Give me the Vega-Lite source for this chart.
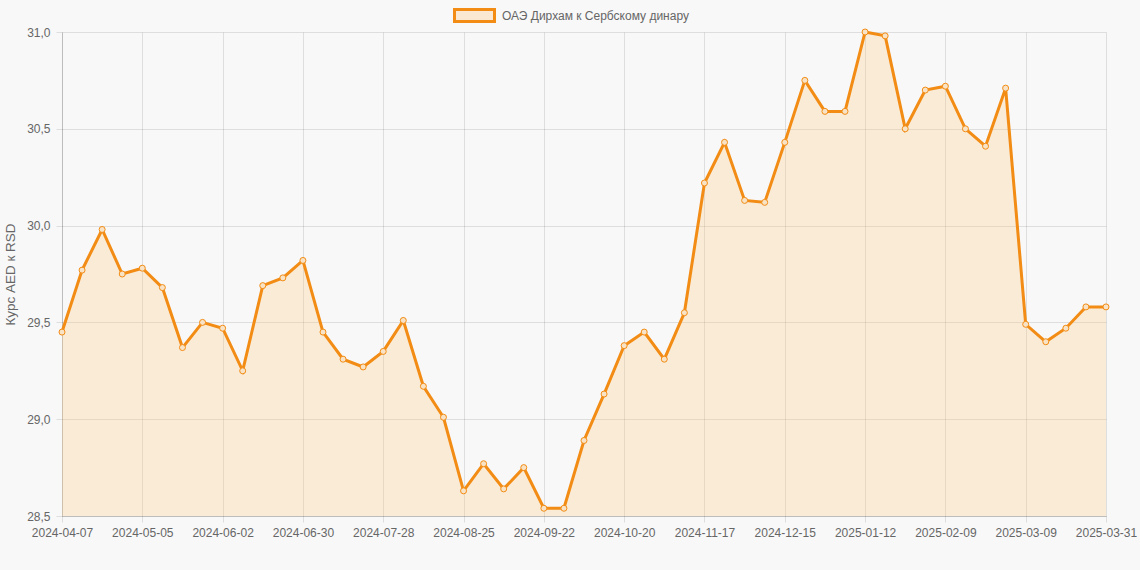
{
  "$schema": "https://vega.github.io/schema/vega-lite/v6.json",
  "width": 1044,
  "height": 484,
  "autosize": "none",
  "padding": {"left": 62, "top": 32, "right": 34, "bottom": 54},
  "background": "#f8f8f8",
  "config": {
    "font": "Liberation Sans",
    "view": {"stroke": null},
    "axis": {
      "labelFont": "Liberation Sans",
      "labelFontSize": 12,
      "labelColor": "#666666",
      "titleFont": "Liberation Sans",
      "titleFontSize": 13.5,
      "titleFontWeight": "normal",
      "titleColor": "#666666",
      "gridColor": "#000000",
      "gridOpacity": 0.1,
      "domainColor": "#000000",
      "domainOpacity": 0.15,
      "tickColor": "#000000",
      "tickOpacity": 0.1,
      "tickSize": 6
    }
  },
  "data": {
    "values": [
      {"date": "2024-04-07", "rate": 29.45},
      {"date": "2024-04-14", "rate": 29.77},
      {"date": "2024-04-21", "rate": 29.98},
      {"date": "2024-04-28", "rate": 29.75},
      {"date": "2024-05-05", "rate": 29.78},
      {"date": "2024-05-12", "rate": 29.68},
      {"date": "2024-05-19", "rate": 29.37},
      {"date": "2024-05-26", "rate": 29.50},
      {"date": "2024-06-02", "rate": 29.47},
      {"date": "2024-06-09", "rate": 29.25},
      {"date": "2024-06-16", "rate": 29.69},
      {"date": "2024-06-23", "rate": 29.73},
      {"date": "2024-06-30", "rate": 29.82},
      {"date": "2024-07-07", "rate": 29.45},
      {"date": "2024-07-14", "rate": 29.31},
      {"date": "2024-07-21", "rate": 29.27},
      {"date": "2024-07-28", "rate": 29.35},
      {"date": "2024-08-04", "rate": 29.51},
      {"date": "2024-08-11", "rate": 29.17},
      {"date": "2024-08-18", "rate": 29.01},
      {"date": "2024-08-25", "rate": 28.63},
      {"date": "2024-09-01", "rate": 28.77},
      {"date": "2024-09-08", "rate": 28.64},
      {"date": "2024-09-15", "rate": 28.75},
      {"date": "2024-09-22", "rate": 28.54},
      {"date": "2024-09-29", "rate": 28.54},
      {"date": "2024-10-06", "rate": 28.89},
      {"date": "2024-10-13", "rate": 29.13},
      {"date": "2024-10-20", "rate": 29.38},
      {"date": "2024-10-27", "rate": 29.45},
      {"date": "2024-11-03", "rate": 29.31},
      {"date": "2024-11-10", "rate": 29.55},
      {"date": "2024-11-17", "rate": 30.22},
      {"date": "2024-11-24", "rate": 30.43},
      {"date": "2024-12-01", "rate": 30.13},
      {"date": "2024-12-08", "rate": 30.12},
      {"date": "2024-12-15", "rate": 30.43},
      {"date": "2024-12-22", "rate": 30.75},
      {"date": "2024-12-29", "rate": 30.59},
      {"date": "2025-01-05", "rate": 30.59},
      {"date": "2025-01-12", "rate": 31.00},
      {"date": "2025-01-19", "rate": 30.98},
      {"date": "2025-01-26", "rate": 30.50},
      {"date": "2025-02-02", "rate": 30.70},
      {"date": "2025-02-09", "rate": 30.72},
      {"date": "2025-02-16", "rate": 30.50},
      {"date": "2025-02-23", "rate": 30.41},
      {"date": "2025-03-02", "rate": 30.71},
      {"date": "2025-03-09", "rate": 29.49},
      {"date": "2025-03-16", "rate": 29.40},
      {"date": "2025-03-23", "rate": 29.47},
      {"date": "2025-03-30", "rate": 29.58},
      {"date": "2025-03-31", "rate": 29.58}
    ]
  },
  "encoding": {
    "x": {
      "field": "date",
      "type": "ordinal",
      "scale": {"type": "point", "padding": 0},
      "axis": {
        "title": null,
        "labelAngle": 0,
        "labelPadding": 5,
        "labelOverlap": false,
        "labelFlush": false,
        "grid": true,
        "values": ["2024-04-07", "2024-05-05", "2024-06-02", "2024-06-30", "2024-07-28", "2024-08-25", "2024-09-22", "2024-10-20", "2024-11-17", "2024-12-15", "2025-01-12", "2025-02-09", "2025-03-09", "2025-03-31"]
      }
    },
    "y": {
      "field": "rate",
      "type": "quantitative",
      "scale": {"domain": [28.5, 31], "zero": false, "nice": false},
      "axis": {
        "title": "Курс AED к RSD",
        "values": [28.5, 29, 29.5, 30, 30.5, 31],
        "labelExpr": "replace(format(datum.value, '.1f'), '.', ',')",
        "labelPadding": 6,
        "titlePadding": 9,
        "grid": true
      }
    }
  },
  "layer": [
    {
      "mark": {"type": "area", "color": "#ffcb86", "opacity": 0.29},
      "encoding": {"y2": {"datum": 28.5}}
    },
    {
      "mark": {"type": "line", "strokeWidth": 3},
      "encoding": {
        "color": {
          "datum": "ОАЭ Дирхам к Сербскому динару",
          "type": "nominal",
          "scale": {"range": ["#f28c14"]},
          "legend": {
            "title": null,
            "orient": "none",
            "legendX": 391,
            "legendY": -38,
            "symbolType": "M-1,-0.3H1V0.3H-1Z",
            "symbolSize": 1600,
            "symbolFillColor": "#fbe8d3",
            "symbolStrokeColor": "#f28c14",
            "symbolStrokeWidth": 3,
            "symbolOpacity": 1,
            "labelFont": "Liberation Sans",
            "labelFontSize": 12,
            "labelColor": "#666666",
            "labelOffset": 6,
            "labelLimit": 400
          }
        }
      }
    },
    {
      "mark": {"type": "point", "shape": "circle", "size": 36, "filled": false, "stroke": "#f28c14", "strokeWidth": 1, "fill": "#f9e3c6", "fillOpacity": 1, "opacity": 1}
    }
  ]
}
